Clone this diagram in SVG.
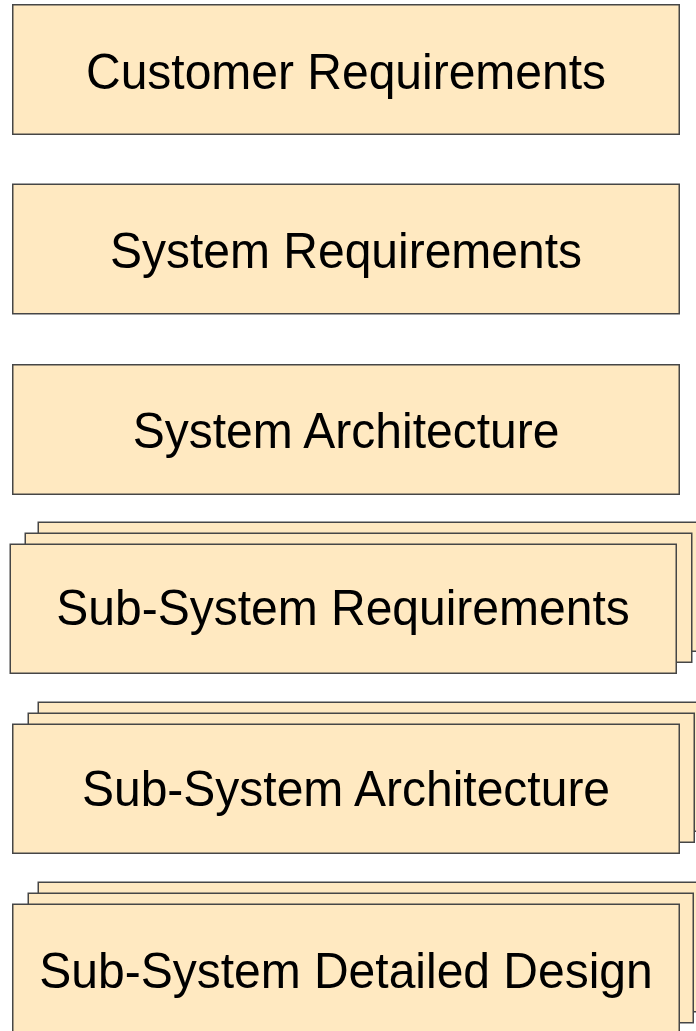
<svg xmlns="http://www.w3.org/2000/svg" width="696" height="1031" viewBox="0 0 696 1031">
  <style>
    .box { fill: #FFE9C1; stroke: #464646; stroke-width: 1.5; }
    .label { font-family: "Liberation Sans", Arial, sans-serif; font-size: 48px; fill: #000; text-anchor: middle; }
  </style>
  <rect width="696" height="1031" fill="#ffffff"/>

  <!-- labels are drawn slightly taller than wide: scale(1, 1.05) about their baseline -->
  <g id="customer-requirements">
    <rect class="box" x="12.75" y="4.75" width="666.5" height="129.5"/>
    <text class="label" transform="translate(346 88.5) scale(1 1.05)">Customer Requirements</text>
  </g>

  <g id="system-requirements">
    <rect class="box" x="12.75" y="184.25" width="666.5" height="129.5"/>
    <text class="label" transform="translate(346 267.5) scale(1 1.05)">System Requirements</text>
  </g>

  <g id="system-architecture">
    <rect class="box" x="12.75" y="364.75" width="666.5" height="129.5"/>
    <text class="label" transform="translate(346 448) scale(1 1.05)">System Architecture</text>
  </g>

  <g id="subsystem-requirements">
    <rect class="box" x="38.25" y="522.25" width="667" height="129"/>
    <rect class="box" x="25.25" y="533.25" width="666.5" height="129"/>
    <rect class="box" x="10.25" y="544.25" width="666" height="129"/>
    <text class="label" transform="translate(343 625) scale(1 1.05)">Sub-System Requirements</text>
  </g>

  <g id="subsystem-architecture">
    <rect class="box" x="38.25" y="702.25" width="667" height="129"/>
    <rect class="box" x="28.25" y="713.25" width="666" height="129"/>
    <rect class="box" x="12.75" y="724.25" width="666.5" height="129"/>
    <text class="label" transform="translate(346 806) scale(1 1.05)">Sub-System Architecture</text>
  </g>

  <g id="subsystem-detailed-design">
    <rect class="box" x="38.25" y="882.25" width="667" height="129.5"/>
    <rect class="box" x="28.25" y="893.25" width="665" height="129.5"/>
    <rect class="box" x="12.75" y="904.25" width="666.5" height="129.5"/>
    <text class="label" transform="translate(346 988) scale(1 1.05)">Sub-System Detailed Design</text>
  </g>

  <g id="connectors"/>
</svg>
